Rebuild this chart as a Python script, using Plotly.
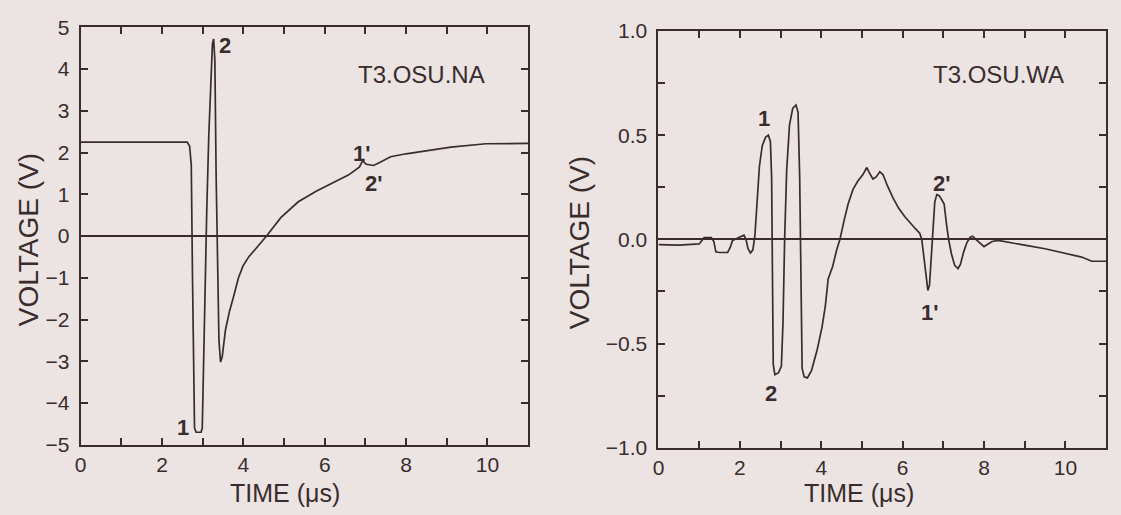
import plotly.graph_objects as go

# ---------------- data ----------------
na_time = [0.0, 2.62, 2.68, 2.72, 2.75, 2.78, 2.80, 2.84, 2.96, 2.99, 3.02, 3.06, 3.10,
           3.15, 3.20, 3.24, 3.27, 3.30, 3.33, 3.37, 3.40, 3.44, 3.48, 3.56, 3.66,
           3.76, 3.88, 3.99, 4.13, 4.31, 4.57, 4.92, 5.35, 5.80, 6.23, 6.58, 6.85,
           6.93, 7.02, 7.20, 7.35, 7.62, 8.0, 8.5, 9.1, 9.96, 10.5, 11.0]
na_volt = [2.25, 2.25, 2.15, 1.7, -1.0, -3.8, -4.6, -4.7, -4.7, -4.6, -3.0, -1.2, 0.6,
           2.4, 3.9, 4.6, 4.72, 4.2, 1.5, -1.2, -2.5, -3.02, -2.9, -2.25, -1.8,
           -1.45, -1.0, -0.72, -0.5, -0.3, 0.0, 0.44, 0.82, 1.08, 1.30, 1.46, 1.65,
           1.80, 1.72, 1.69, 1.76, 1.90, 1.97, 2.05, 2.13, 2.21, 2.22, 2.22]

wa_time = [0.0, 0.5, 1.0, 1.08, 1.12, 1.30, 1.36, 1.41, 1.50, 1.70, 1.76, 1.82, 1.92,
           2.02, 2.10, 2.15, 2.20, 2.26, 2.32, 2.37, 2.42, 2.48, 2.55, 2.63, 2.70,
           2.75, 2.78, 2.80, 2.82, 2.86, 2.95, 3.02, 3.06, 3.10, 3.15, 3.22, 3.30,
           3.38, 3.43, 3.47, 3.50, 3.53, 3.58, 3.66, 3.76, 3.90, 4.02, 4.10, 4.17,
           4.22, 4.28, 4.38, 4.46, 4.56, 4.66, 4.78, 4.90, 5.02, 5.12, 5.18, 5.27,
           5.35, 5.44, 5.52, 5.62, 5.76, 5.90, 6.05, 6.20, 6.32, 6.42, 6.47, 6.52,
           6.57, 6.62, 6.66, 6.70, 6.74, 6.79, 6.84, 6.90, 6.96, 7.02, 7.08, 7.13,
           7.20, 7.28, 7.36, 7.42, 7.50, 7.58, 7.66, 7.72, 7.80, 7.90, 8.00, 8.08,
           8.20, 8.35, 8.6, 9.0, 9.5, 10.0, 10.4, 10.65, 11.0]
wa_volt = [-0.025, -0.028, -0.022, 0.0, 0.008, 0.008, -0.01, -0.06, -0.063, -0.063,
           -0.04, -0.005, 0.005, 0.015, 0.02, 0.0, -0.045, -0.065, -0.05, 0.02, 0.15,
           0.35, 0.45, 0.49, 0.50, 0.47, 0.30, -0.2, -0.60, -0.65, -0.64, -0.61,
           -0.40, 0.0, 0.33, 0.55, 0.63, 0.645, 0.61, 0.3, -0.2, -0.62, -0.66,
           -0.665, -0.63, -0.53, -0.42, -0.32, -0.19, -0.16, -0.13, -0.05, 0.0,
           0.09, 0.17, 0.24, 0.28, 0.31, 0.345, 0.32, 0.29, 0.30, 0.325, 0.31,
           0.26, 0.20, 0.15, 0.11, 0.075, 0.05, 0.03, 0.0, -0.08, -0.18, -0.245,
           -0.22, -0.08, 0.06, 0.18, 0.215, 0.21, 0.19, 0.17, 0.07, 0.0, -0.07,
           -0.125, -0.14, -0.12, -0.06, -0.015, 0.01, 0.015, 0.0, -0.02, -0.035,
           -0.025, -0.01, -0.005, -0.015, -0.028, -0.045, -0.068, -0.085, -0.105,
           -0.105]

na_labels = ["2", "1", "1'", "2'"]
na_label_x = [3.55, 2.52, 6.9, 7.2]
na_label_y = [4.56, -4.59, 1.98, 1.25]

wa_labels = ["1", "2", "1'", "2'"]
wa_label_x = [2.59, 2.77, 6.65, 6.96]
wa_label_y = [0.58, -0.74, -0.35, 0.27]

na_title = "T3.OSU.NA"
wa_title = "T3.OSU.WA"
x_title = "TIME (μs)"
y_title = "VOLTAGE (V)"

# ---------------- style ----------------
INK = "#3a2c2c"
PAPER = "#ebe4e2"
FONT = "Liberation Sans, Arial, sans-serif"
W, H = 1121, 515

fig = go.Figure()
fig.add_trace(go.Scatter(x=na_time, y=na_volt, mode="lines", xaxis="x", yaxis="y",
                         line=dict(color=INK, width=1.7), showlegend=False, hoverinfo="skip"))
fig.add_trace(go.Scatter(x=wa_time, y=wa_volt, mode="lines", xaxis="x2", yaxis="y2",
                         line=dict(color=INK, width=1.7), showlegend=False, hoverinfo="skip"))

def px_x(p):
    return p / W

def px_y(p):
    return (H - p) / H

axis_common = dict(showline=True, linewidth=2, linecolor=INK, mirror="allticks",
                   ticks="inside", ticklen=7, tickwidth=1.5, tickcolor=INK,
                   showgrid=False, fixedrange=True,
                   tickfont=dict(family=FONT, size=21, color=INK))

xminor = dict(dtick=1, ticks="inside", ticklen=7, tickwidth=1.5, tickcolor=INK, showgrid=False)

fig.update_layout(
    width=W, height=H,
    margin=dict(l=0, r=0, t=0, b=0),
    paper_bgcolor=PAPER, plot_bgcolor=PAPER,
    font=dict(family=FONT, color=INK),
    xaxis=dict(domain=[px_x(75), px_x(525)], range=[0, 11], tick0=0, dtick=2,
               zeroline=False, anchor="y", minor=xminor, ticklabelstandoff=0,
               **axis_common),
    yaxis=dict(domain=[px_y(453), px_y(16)], range=[-5, 5], tick0=0, dtick=1,
               zeroline=True, zerolinecolor=INK, zerolinewidth=1.6, anchor="x",
               ticklabelstandoff=5, **axis_common),
    xaxis2=dict(domain=[px_x(656), px_x(1106)], range=[0, 11], tick0=0, dtick=2,
                zeroline=False, anchor="y2", minor=xminor, ticklabelstandoff=0,
                **axis_common),
    yaxis2=dict(domain=[px_y(456), px_y(20)], range=[-1, 1], tick0=0, dtick=0.5,
                tickformat=".1f", zeroline=True, zerolinecolor=INK, zerolinewidth=1.6,
                anchor="x2", ticklabelstandoff=5,
                minor=dict(dtick=0.25, ticks="inside", ticklen=7, tickwidth=1.5,
                           tickcolor=INK, showgrid=False),
                **axis_common),
)

def label(text, x, y, xref, yref, size, angle=0):
    return dict(text=text, x=x, y=y, xref=xref, yref=yref, showarrow=False,
                xanchor="center", yanchor="middle", textangle=angle, borderpad=0,
                font=dict(family=FONT, size=size, color=INK))

ann = []
for t, x, y in zip(na_labels, na_label_x, na_label_y):
    ann.append(label("<b>" + t + "</b>", x, y, "x", "y", 22))
for t, x, y in zip(wa_labels, wa_label_x, wa_label_y):
    ann.append(label("<b>" + t + "</b>", x, y, "x2", "y2", 22))
ann.append(label(na_title, 8.37, 3.87, "x", "y", 24))
ann.append(label(wa_title, 8.36, 0.79, "x2", "y2", 24))
# axis titles
ann.append(label(x_title, px_x(280), px_y(503), "paper", "paper", 25))
ann.append(label(x_title, px_x(858), px_y(503), "paper", "paper", 25))
ann.append(label(y_title, px_x(22), px_y(238), "paper", "paper", 28, -90))
ann.append(label(y_title, px_x(576), px_y(241), "paper", "paper", 28, -90))
fig.update_layout(annotations=ann)

page_css = ("document.body.style.margin='0';"
            "document.body.style.background='%s';"
            "document.documentElement.style.overflow='hidden';" % PAPER)
fig.write_html("out.html", post_script=page_css, config={"displayModeBar": False})
